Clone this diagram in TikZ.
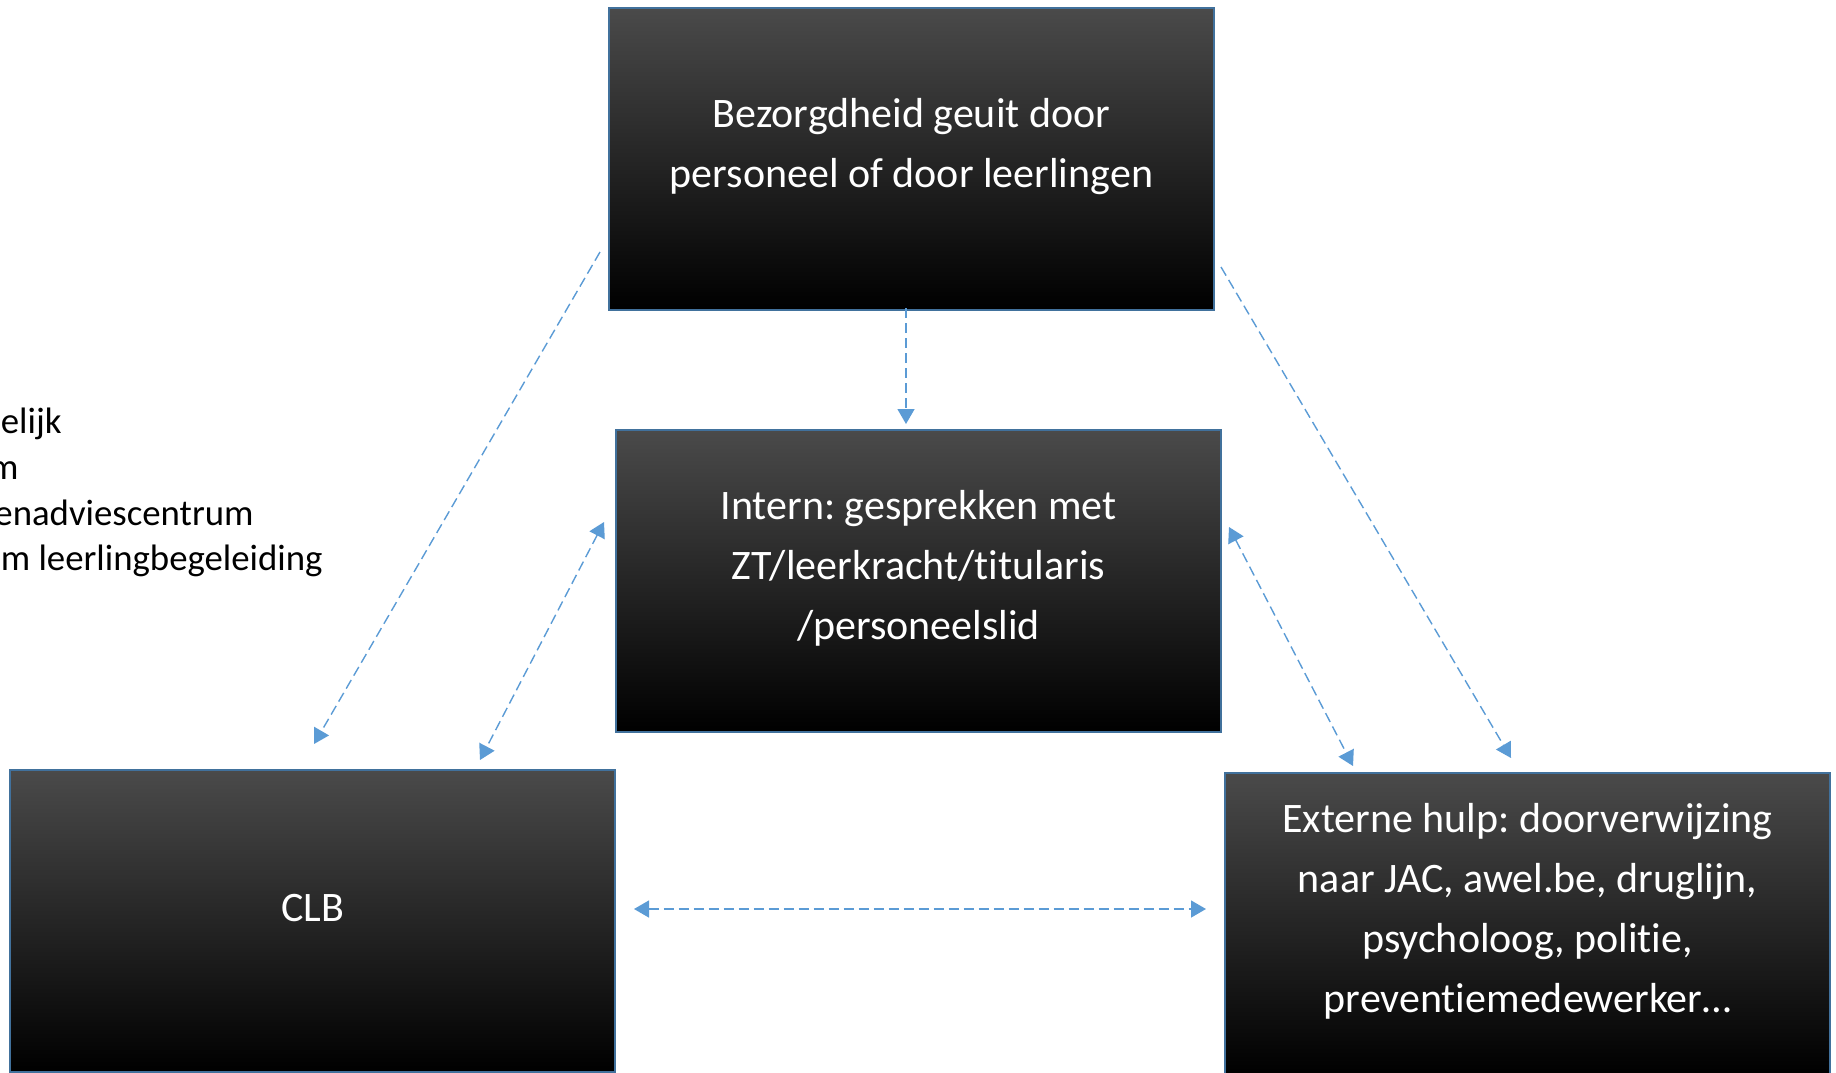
\documentclass[tikz,border=0pt]{standalone}
\usepackage{fontspec}
\setmainfont{Carlito}[Ligatures=NoCommon]
\frenchspacing
\usetikzlibrary{arrows.meta}

\definecolor{boxline}{HTML}{41719C}
\definecolor{boxtop}{HTML}{4A4A4A}
\definecolor{linkblue}{HTML}{5B9BD5}

\tikzset{
  box/.style={rectangle, draw=boxline, line width=1pt, top color=boxtop,
    bottom color=black, minimum width=302.5pt, minimum height=151pt, inner sep=0pt},
  boxtext/.style={text=white, align=center, inner sep=0pt,
    font=\fontsize{21}{30}\selectfont},
  link/.style={linkblue, line width=0.7pt, dash pattern=on 5pt off 2.5pt},
  tip/.style={-{Triangle[length=7.5pt,width=8.5pt]}},
  bothtips/.style={{Triangle[length=7.5pt,width=8.5pt]}-{Triangle[length=7.5pt,width=8.5pt]}},
  side/.style={anchor=mid east, inner sep=0pt, font=\fontsize{18.4}{22}\selectfont}
}

\begin{document}
\begin{tikzpicture}[x=0.5pt,y=-0.5pt]
    \useasboundingbox (0,0) rectangle (1836,1072);

    % boxes
    \node[box] (zorg) at (911.5,159) {};
    \node[box] (intern) at (918.5,581) {};
    \node[box] (clb) at (312.5,921) {};
    \node[box] (extern) at (1527.5,924) {};

    \node[boxtext] (zorgtxt) at ([yshift=6pt]zorg.center)
      {Bezorgdheid geuit door\\personeel of door leerlingen};
    \node[boxtext] (interntxt) at ([yshift=6.5pt]intern.center)
      {Intern: gesprekken met\\ZT/leerkracht/titularis\\/personeelslid};
    \node[boxtext] (clbtxt) at ([yshift=6.5pt]clb.center) {CLB};
    \node[boxtext] (externtxt) at ([yshift=6.5pt]extern.center)
      {Externe hulp: doorverwijzing\\naar JAC, awel.be, druglijn,\\psycholoog, politie,\\preventiemedewerker…};

    % legend, cut off at the left edge
    \node[side] (leg1) at (62,429) {elijk};
    \node[side] (leg2) at (19,475) {m};
    \node[side] (leg3) at (254,521) {enadviescentrum};
    \node[side] (leg4) at (323,566) {m leerlingbegeleiding};

    % connectors
    \draw[link,tip] ([shift={(-5.5,-3)}]zorg.south) -- ([shift={(-12.5,-5)}]intern.north);
    \draw[link,tip] ([shift={(-8,93)}]zorg.west) -- ([shift={(1.5,-25)}]clb.north);
    \draw[link,tip] ([shift={(6,108)}]zorg.east) -- ([shift={(-16.5,-14)}]extern.north);
    \draw[link,bothtips] ([shift={(-11,-59)}]intern.west) -- ([shift={(-136,-9)}]clb.north east);
    \draw[link,bothtips] ([shift={(7,-54)}]intern.east) -- ([shift={(129,-6)}]extern.north west);
    \draw[link,bothtips] ([shift={(18,-12)}]clb.east) -- ([shift={(-18,-15)}]extern.west);
\end{tikzpicture}
\end{document}
